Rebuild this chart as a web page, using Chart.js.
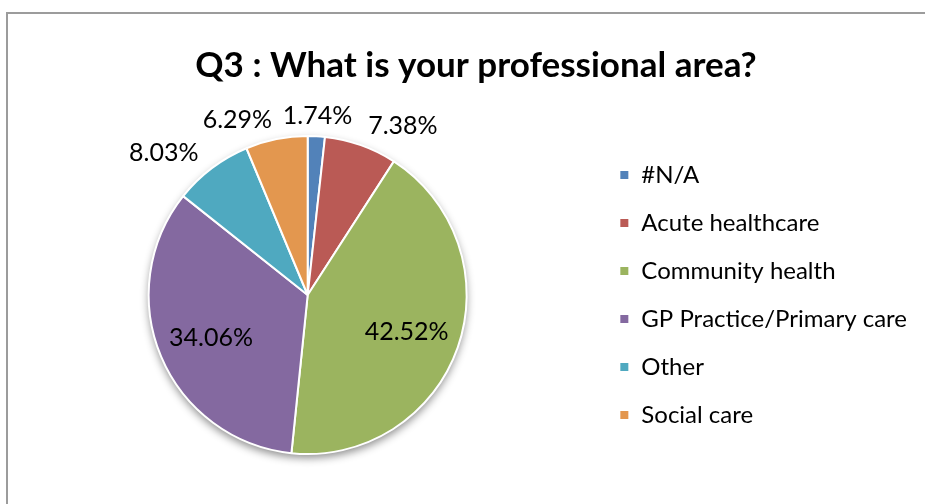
<!DOCTYPE html>
<html>
<head>
<meta charset="utf-8">
<title>Q3 : What is your professional area?</title>
<script src="https://cdn.jsdelivr.net/npm/chart.js@4.4.1/dist/chart.umd.min.js"></script>
<style>
    html, body { margin: 0; padding: 0; background: #fff; }
    #wrap { width: 925px; height: 504px; position: relative; }
</style>
</head>
<body>
<div id="wrap"><canvas id="ChartPie"></canvas></div>
<script>
    // data
    const categories = ['#N/A', 'Acute healthcare', 'Community health', 'GP Practice/Primary care', 'Other', 'Social care'];
    const percents = [1.74, 7.38, 42.52, 34.06, 8.03, 6.29];
    const sliceColors = ['#5282B9', '#BA5A55', '#9BB45F', '#8469A0', '#4FA9C0', '#E3974F'];
    const chartTitle = 'Q3 : What is your professional area?';

    const FONT = 'Lato, "Open Sans", sans-serif';

    // grey frame round the chart, like the excel chart border
    const framePlugin = {
        id: 'frame',
        beforeDraw(chart) {
            const ctx = chart.ctx;
            ctx.save();
            ctx.strokeStyle = '#9c9c9c';
            ctx.lineWidth = 2;
            ctx.beginPath();
            ctx.moveTo(7, chart.height);
            ctx.lineTo(7, 13);
            ctx.lineTo(chart.width, 13);
            ctx.stroke();

            ctx.fillStyle = '#000';
            ctx.font = 'bold 35px ' + FONT;
            ctx.textAlign = 'center';
            ctx.textBaseline = 'alphabetic';
            ctx.fillText(chartTitle, 476, 77);
            ctx.restore();
        }
    };

    // soft shadow under the pie
    const shadowPlugin = {
        id: 'pieShadow',
        beforeDatasetsDraw(chart) {
            const arc = chart.getDatasetMeta(0).data[0];
            if (!arc) return;
            const ctx = chart.ctx;
            ctx.save();
            ctx.shadowColor = 'rgba(0,0,0,0.45)';
            ctx.shadowBlur = 8;
            ctx.shadowOffsetY = 4;
            ctx.fillStyle = '#fff';
            ctx.beginPath();
            ctx.arc(arc.x, arc.y, arc.outerRadius, 0, Math.PI * 2);
            ctx.fill();
            ctx.restore();
        }
    };

    // percentage labels, inside big slices and outside small ones
    const labelPlugin = {
        id: 'pctLabels',
        afterDatasetsDraw(chart) {
            const ctx = chart.ctx;
            const meta = chart.getDatasetMeta(0);
            ctx.save();
            ctx.fillStyle = '#000';
            ctx.font = '25px ' + FONT;
            ctx.textBaseline = 'middle';
            meta.data.forEach((arc, i) => {
                const v = percents[i];
                const mid = (arc.startAngle + arc.endAngle) / 2;
                const text = v.toFixed(2) + '%';
                let r, align = 'center';
                if (v < 10) {
                    r = arc.outerRadius + 22;
                    const s = Math.cos(mid);
                    if (s > 0.15) align = 'left';
                    else if (s < -0.15) align = 'right';
                } else {
                    r = arc.outerRadius * 0.66;
                }
                ctx.textAlign = align;
                ctx.fillText(text, arc.x + Math.cos(mid) * r, arc.y + Math.sin(mid) * r + 2);
            });
            ctx.restore();
        }
    };

    document.addEventListener('DOMContentLoaded', function() {
        const ctx = document.getElementById('ChartPie').getContext('2d');

        const chartPie = new Chart(ctx, {
            type: 'pie',
            data: {
                labels: categories,
                datasets: [{
                    data: percents,
                    backgroundColor: sliceColors,
                    borderColor: '#fff',
                    borderWidth: 2,
                    radius: 159
                }]
            },
            options: {
                responsive: true,
                maintainAspectRatio: false,
                animation: false,
                layout: { padding: { left: 20, right: 8, top: 90, bottom: 4 } },
                plugins: {
                    title: { display: false },
                    tooltip: { enabled: false },
                    legend: {
                        position: 'right',
                        align: 'center',
                        labels: {
                            boxWidth: 10,
                            boxHeight: 10,
                            padding: 24,
                            color: '#000',
                            font: { family: FONT, size: 24 }
                        }
                    }
                }
            },
            plugins: [framePlugin, shadowPlugin, labelPlugin]
        });
    });
</script>
</body>
</html>
